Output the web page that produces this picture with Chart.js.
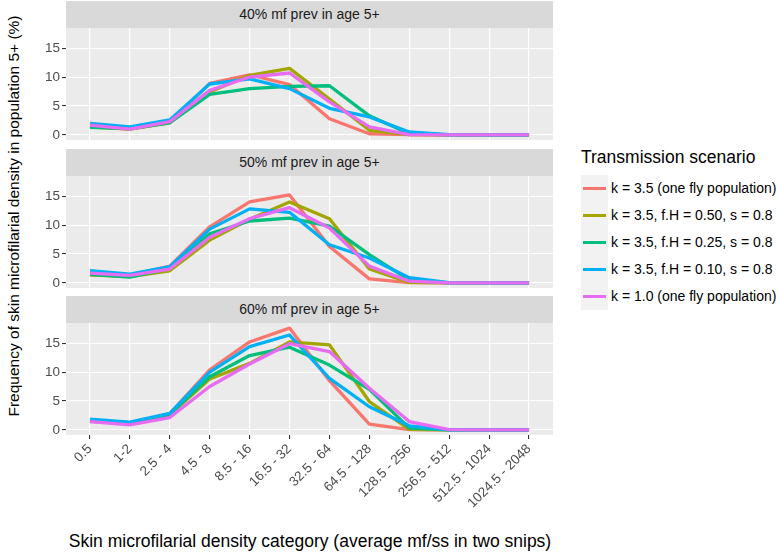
<!DOCTYPE html>
<html><head><meta charset="utf-8">
<script src="https://cdn.jsdelivr.net/npm/chart.js@4.4.1/dist/chart.umd.min.js"></script>
<style>
html,body{margin:0;padding:0;background:#fff;}
body{width:777px;height:558px;overflow:hidden;position:relative;font-family:"Liberation Sans",Arial,Helvetica,sans-serif;}
.strip{position:absolute;left:66px;width:487px;height:27px;background:#d9d9d9;color:#1a1a1a;font-size:14px;line-height:27px;text-align:center;}
.cv{position:absolute;left:0;}
#ytitle{position:absolute;width:460px;left:-216px;top:206px;height:20px;line-height:20px;font-size:15.5px;text-align:center;transform:rotate(-90deg);color:#000;white-space:nowrap;}
#xtitle{position:absolute;left:60px;width:500px;top:530px;line-height:22px;font-size:17.5px;text-align:center;color:#000;white-space:nowrap;}
#legend{position:absolute;left:581px;top:147px;}
#legend .lt{font-size:17.5px;line-height:20px;color:#000;white-space:nowrap;margin-bottom:8px;}
#legend .it{position:relative;height:27px;}
#legend .key{position:absolute;left:0;top:0;width:27px;height:27px;background:#f2f2f2;}
#legend .ln{position:absolute;left:2px;width:23px;top:12px;height:3.3px;}
#legend .tx{position:absolute;left:30px;top:0;line-height:27px;font-size:14px;color:#000;white-space:nowrap;}
</style></head><body>
<div id="ytitle">Frequency of skin microfilarial density in population 5+ (%)</div>
<div id="xtitle">Skin microfilarial density category (average mf/ss in two snips)</div>
<div id="legend"></div>
<script>
// ---- data ----
const categories = ['0.5','1-2','2.5 - 4','4.5 - 8','8.5 - 16','16.5 - 32','32.5 - 64','64.5 - 128','128.5 - 256','256.5 - 512','512.5 - 1024','1024.5 - 2048'];
const seriesNames = ['k = 3.5 (one fly population)','k = 3.5, f.H = 0.50, s = 0.8','k = 3.5, f.H = 0.25, s = 0.8','k = 3.5, f.H = 0.10, s = 0.8','k = 1.0 (one fly population)'];
const seriesColors = ['#F8766D','#A3A500','#00BF7D','#00B0F6','#E76BF3'];
const panelTitles = ['40% mf prev in age 5+','50% mf prev in age 5+','60% mf prev in age 5+'];
const yTickValues = [0,5,10,15];
const yTickLabels = ['0','5','10','15'];
const yMinorValues = [2.5,7.5,12.5,17.5];

// 40% prevalence
const p40_k35    = [1.5, 1.0, 2.2, 8.9, 10.4, 8.7, 2.8, 0.2, 0.05, 0, 0, 0];
const p40_fH050  = [1.4, 1.0, 2.1, 7.4, 10.3, 11.5, 6.2, 0.8, 0.05, 0, 0, 0];
const p40_fH025  = [1.3, 1.1, 2.1, 7.0, 8.0, 8.4, 8.5, 3.3, 0.2, 0, 0, 0];
const p40_fH010  = [2.0, 1.4, 2.6, 8.8, 9.7, 8.0, 4.6, 3.1, 0.5, 0.05, 0, 0];
const p40_k10    = [1.7, 1.0, 2.3, 7.7, 10.0, 10.7, 5.7, 1.4, 0.05, 0, 0, 0];
// 50% prevalence
const p50_k35    = [1.4, 1.3, 2.9, 9.7, 14.0, 15.2, 6.3, 0.7, 0.05, 0, 0, 0];
const p50_fH050  = [1.4, 1.1, 2.1, 7.4, 11.0, 14.0, 11.1, 2.4, 0.1, 0, 0, 0];
const p50_fH025  = [1.5, 1.0, 2.5, 8.5, 10.7, 11.2, 9.8, 4.9, 0.5, 0, 0, 0];
const p50_fH010  = [2.1, 1.5, 2.8, 9.3, 12.8, 12.2, 6.6, 4.3, 0.9, 0.05, 0, 0];
const p50_k10    = [1.7, 1.3, 2.4, 7.9, 11.1, 13.0, 9.5, 2.9, 0.3, 0, 0, 0];
// 60% prevalence
const p60_k35    = [1.6, 1.1, 2.8, 10.4, 15.2, 17.6, 8.5, 1.0, 0.05, 0, 0, 0];
const p60_fH050  = [1.5, 1.1, 2.6, 8.8, 11.5, 15.2, 14.7, 4.9, 0.1, 0, 0, 0];
const p60_fH025  = [1.6, 1.1, 2.7, 9.2, 12.85, 14.3, 11.2, 7.0, 0.3, 0, 0, 0];
const p60_fH010  = [1.85, 1.33, 2.84, 10.0, 14.4, 16.4, 8.9, 4.0, 0.7, 0, 0, 0];
const p60_k10    = [1.45, 0.87, 2.14, 7.5, 11.4, 14.9, 13.55, 7.2, 1.45, 0.05, 0, 0];

const panels = [
  [p40_k35, p40_fH050, p40_fH025, p40_fH010, p40_k10],
  [p50_k35, p50_fH050, p50_fH025, p50_fH010, p50_k10],
  [p60_k35, p60_fH050, p60_fH025, p60_fH010, p60_k10]
];

// ---- layout ----
const FONT = '"Liberation Sans", Arial, Helvetica, sans-serif';
const PANEL_TOPS = [28, 176, 323];
const PANEL_H = 112;
const PAD = 12;
const X_AXIS_H = 80;
const allVals = panels.flat(2);
const dMax = Math.max(...allVals), dMin = Math.min(...allVals);
const Y_MIN = dMin - 0.05*(dMax-dMin);
const Y_MAX = dMax + 0.05*(dMax-dMin);

const bgPlugin = {
  id:'panelBg',
  beforeDraw(chart){
    const a = chart.chartArea, c = chart.ctx;
    c.save(); c.fillStyle = '#ebebeb'; c.fillRect(a.left, a.top, a.right-a.left, a.bottom-a.top); c.restore();
  }
};

function makePanel(idx){
  const showX = idx === panels.length-1;
  const top = PANEL_TOPS[idx];
  const s = document.createElement('div');
  s.className = 'strip'; s.style.top = (top-27)+'px'; s.textContent = panelTitles[idx];
  document.body.appendChild(s);
  const cv = document.createElement('canvas');
  const h = PAD + PANEL_H + (showX ? X_AXIS_H : PAD);
  cv.width = 560; cv.height = h; cv.className = 'cv';
  cv.style.top = (top-PAD)+'px'; cv.style.width='560px'; cv.style.height=h+'px';
  document.body.appendChild(cv);
  const datasets = panels[idx].map((arr,si)=>({
    label: seriesNames[si],
    data: arr.map((v,i)=>({x:i,y:v})),
    borderColor: seriesColors[si],
    backgroundColor: seriesColors[si],
    borderWidth: 3.3,
    pointRadius: 0,
    tension: 0,
    fill: false,
    borderJoinStyle: 'round',
    borderCapStyle: 'butt',
    order: seriesNames.length - si
  }));
  new Chart(cv, {
    type:'line',
    data:{datasets},
    plugins:[bgPlugin],
    options:{
      responsive:false, animation:false, devicePixelRatio:1,
      layout:{padding:{top:PAD, bottom: showX?0:PAD, left:0, right:7}},
      plugins:{legend:{display:false}, tooltip:{enabled:false}},
      scales:{
        x:{
          type:'linear', min:-0.6, max:categories.length-1+0.6,
          afterBuildTicks: ax => { ax.ticks = categories.map((c,i)=>({value:i})); },
          afterFit: ax => { ax.height = showX ? X_AXIS_H : 0; },
          border:{display:false},
          grid:{color:'#ffffff', lineWidth:1.1, drawTicks:showX, tickLength:4, tickColor:'#333333', tickWidth:1.1},
          ticks:{display:showX, autoSkip:false, maxRotation:45, minRotation:45, color:'#4d4d4d',
                 font:{size:13.5, family:FONT}, padding:2, callback: v => categories[v]}
        },
        y:{
          type:'linear', min:Y_MIN, max:Y_MAX,
          afterBuildTicks: ax => { ax.ticks = yTickValues.concat(yMinorValues).sort((a,b)=>a-b).map(v=>({value:v})); },
          afterFit: ax => { ax.width = 66; },
          border:{display:false},
          grid:{color:'#ffffff',
                lineWidth: c => yTickValues.includes(c.tick && c.tick.value) ? 1.1 : 0.55,
                tickLength:4,
                tickColor: c => yTickValues.includes(c.tick && c.tick.value) ? '#333333' : 'rgba(0,0,0,0)',
                tickWidth:1.1},
          ticks:{color:'#4d4d4d', font:{size:13.5, family:FONT}, padding:2,
                 callback: v => { const k = yTickValues.indexOf(v); return k>=0 ? yTickLabels[k] : ''; }}
        }
      }
    }
  });
}
panels.forEach((p,i)=>makePanel(i));

// legend
const lg = document.getElementById('legend');
const lt = document.createElement('div'); lt.className='lt'; lt.textContent='Transmission scenario'; lg.appendChild(lt);
seriesNames.forEach((n,i)=>{
  const it = document.createElement('div'); it.className='it';
  it.innerHTML = '<div class="key"><div class="ln" style="background:'+seriesColors[i]+'"></div></div><div class="tx"></div>';
  it.querySelector('.tx').textContent = n;
  lg.appendChild(it);
});
</script>
</body></html>
